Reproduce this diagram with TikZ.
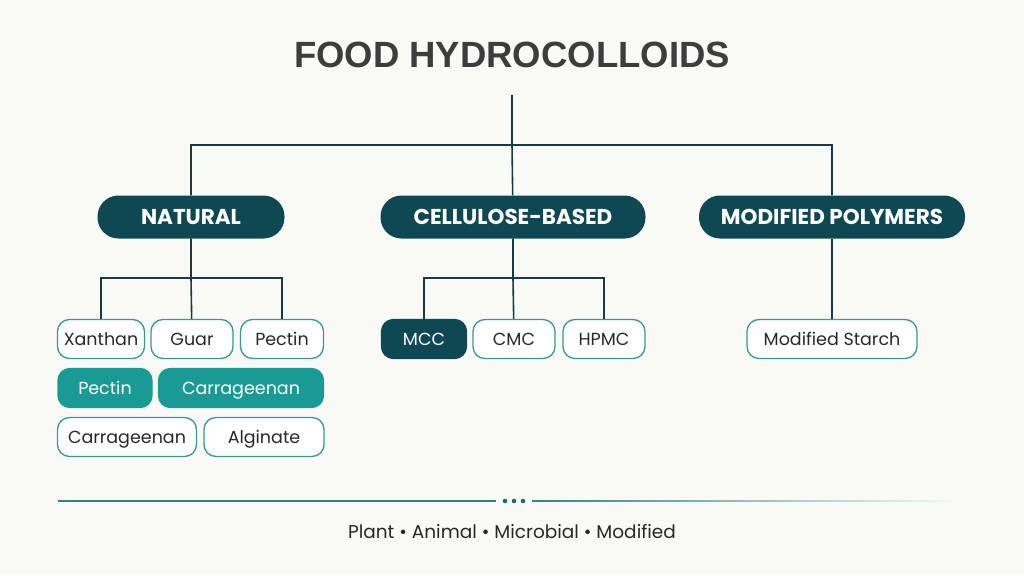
\documentclass[tikz,border=0pt]{standalone}
\usepackage{fontspec}
\setmainfont{Poppins}
\newfontfamily\titlefont{Liberation Sans}
\usetikzlibrary{positioning}
\definecolor{bgC}{RGB}{249,250,246}
\definecolor{catC}{RGB}{14,72,82}
\definecolor{fillT}{RGB}{26,154,148}
\definecolor{edgeT}{RGB}{58,152,147}
\definecolor{wireC}{RGB}{24,58,66}
\definecolor{lineT}{RGB}{42,134,134}
\definecolor{txtC}{RGB}{40,40,40}

\tikzset{
  cat/.style={fill=catC,text=white,rounded corners=21pt,minimum height=43pt,font=\fontsize{21.5}{21.5}\selectfont\bfseries,inner sep=0pt,text height=15pt,text depth=0pt},
  leaf/.style={draw=edgeT,line width=1.3pt,fill=white,rounded corners=12pt,minimum height=39pt,inner sep=0pt,text=txtC,font=\fontsize{17.5}{17.5}\selectfont,text height=12.2pt,text depth=0pt},
  leafT/.style={leaf,fill=fillT,draw=fillT,text=white},
  leafD/.style={leaf,fill=catC,draw=catC,text=white},
  wire/.style={draw=wireC,line width=1.6pt}
}

\begin{document}
\begin{tikzpicture}[x=1pt,y=-1pt]
\useasboundingbox[fill=bgC] (0,0) rectangle (1024,575);
\node[font=\titlefont\fontsize{36.5}{36.5}\selectfont\bfseries,text=txtC!90] (title) at (512,55) {FOOD HYDROCOLLOIDS};
% categories
\node[cat,minimum width=187pt] (nat) at (191,217) {NATURAL};
\node[cat,minimum width=265pt] (cel) at (513,217) {CELLULOSE-BASED};
\node[cat,minimum width=266pt] (mod) at (832,217) {MODIFIED POLYMERS};
% natural
\node[leaf,minimum width=87pt] (xan) at (101,339) {Xanthan};
\node[leaf,minimum width=82pt] (guar) at (192,339) {Guar};
\node[leaf,minimum width=83pt] (pecA) at (282,339) {Pectin};
\node[leafT,minimum width=94pt] (pecB) at (105,388) {Pectin};
\node[leafT,minimum width=165pt] (carA) at (241,388) {Carrageenan};
\node[leaf,minimum width=139pt] (carB) at (127,437) {Carrageenan};
\node[leaf,minimum width=120pt] (alg) at (264,437) {Alginate};
% cellulose
\node[leafD,minimum width=85pt] (mcc) at (424,339) {MCC};
\node[leaf,minimum width=82pt] (cmc) at (514,339) {CMC};
\node[leaf,minimum width=82pt] (hpmc) at (604,339) {HPMC};
% modified
\node[leaf,minimum width=170pt] (mst) at (832,339) {Modified Starch};
% wires
\coordinate (top) at (512,95);
\coordinate (hub) at (512,145);
\coordinate (natbus) at (191,278);
\coordinate (celbus) at (513,278);
\draw[wire] (top) -- (hub) (hub) -| (nat) (hub) -| (mod) (hub) -- (cel);
\draw[wire] (nat) -- (natbus) (natbus) -| (xan) (natbus) -| (pecA) (natbus) -- (guar);
\draw[wire] (cel) -- (celbus) (celbus) -| (mcc) (celbus) -| (hpmc) (celbus) -- (cmc);
\draw[wire] (mod) -- (mst);
% footer rule
\draw[lineT,line width=1.6pt] (58,501) -- (496,501);
\foreach \x in {505,514,523} \fill[lineT!80!black] (\x,501) circle (2.3pt);
\shade[left color=lineT,right color=bgC] (532,500.2) rectangle (962,501.8);
\node[font=\fontsize{18.5}{18.5}\selectfont,text=txtC] (foot) at (512,532) {Plant \textbullet{} Animal \textbullet{} Microbial \textbullet{} Modified};
\end{tikzpicture}
\end{document}
